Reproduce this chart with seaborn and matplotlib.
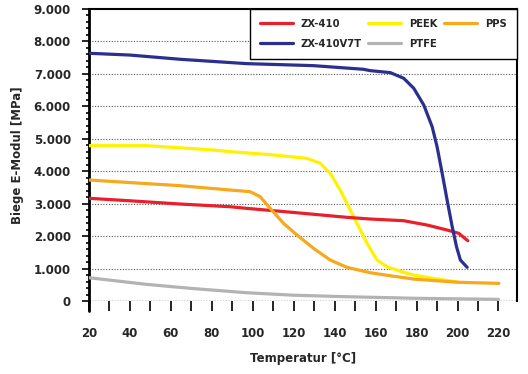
import matplotlib
matplotlib.use("Agg")
import matplotlib.pyplot as plt
import matplotlib.ticker as mticker
import seaborn as sns
import pandas as pd

# ---- data ----
zx410_T = [20, 40, 64.5, 88.9, 97, 120, 146, 157.4, 167.2, 173.7, 185.1, 194.9, 200.6, 205]
zx410_V = [3166, 3090, 2990, 2907, 2857, 2730, 2580, 2528, 2497, 2476, 2343, 2189, 2087, 1860]

v7t_T = [20, 40, 64.5, 97, 129.6, 154, 157.4, 167.2, 173.7, 178.6, 183.5, 187.6, 190, 192.5, 194.9, 197.4, 199.5, 201.4, 204.7]
v7t_V = [7635, 7580, 7450, 7316, 7254, 7142, 7100, 7038, 6865, 6557, 6042, 5373, 4757, 3936, 3113, 2290, 1674, 1264, 1039]

peek_T = [20, 48.2, 80.8, 88.9, 108.5, 126.4, 133, 137.8, 142.7, 147.6, 151.7, 155.8, 160.7, 165.6, 172, 178.6, 190, 199.8]
peek_V = [4788, 4788, 4655, 4603, 4511, 4398, 4244, 3936, 3422, 2805, 2290, 1779, 1264, 1057, 920, 801, 680, 590]

ptfe_T = [20, 48.2, 70, 97, 120, 146, 180, 220]
ptfe_V = [719, 514, 390, 257, 180, 134, 85, 52]

pps_T = [20, 64.5, 88.9, 98.7, 103.6, 108.5, 115, 121.6, 129.7, 137.8, 146, 157.4, 167.2, 178.6, 199.8, 220.2]
pps_V = [3730, 3555, 3422, 3370, 3215, 2857, 2395, 2034, 1624, 1264, 1039, 873, 780, 678, 580, 545]

series = [
    ("ZX-410", zx410_T, zx410_V, "#e8202a"),
    ("ZX-410V7T", v7t_T, v7t_V, "#2b2f8e"),
    ("PEEK", peek_T, peek_V, "#fff200"),
    ("PTFE", ptfe_T, ptfe_V, "#b3b3b3"),
    ("PPS", pps_T, pps_V, "#f7a81b"),
]
draw_order = ["PTFE", "PEEK", "ZX-410", "PPS", "ZX-410V7T"]

x_ticks = [20, 40, 60, 80, 100, 120, 140, 160, 180, 200, 220]
y_ticks = [0, 1000, 2000, 3000, 4000, 5000, 6000, 7000, 8000, 9000]

sns.set_style("white")
plt.rcParams["font.family"] = ["DejaVu Sans"]
plt.rcParams["font.weight"] = "bold"

fig = plt.figure(figsize=(5.28, 3.74), dpi=100)
ax = fig.add_axes([0.1686, 0.195, 0.979 - 0.1686, 0.976 - 0.195])

lookup = {s[0]: s for s in series}
for name in draw_order:
    _, T, V, c = lookup[name]
    df = pd.DataFrame({"T": T, "V": V})
    sns.lineplot(data=df, x="T", y="V", ax=ax, color=c, lw=2.3, label=name,
                 solid_capstyle="round", solid_joinstyle="round", zorder=3)
h, l = ax.get_legend_handles_labels()
hmap = dict(zip(l, h))
order = [s[0] for s in series]
leg = ax.legend([hmap[n] for n in order], order, ncol=3, loc="upper right",
                bbox_to_anchor=(1.0, 1.0), frameon=True, fancybox=False,
                edgecolor="black", framealpha=1, handlelength=3.3,
                handletextpad=0.8, columnspacing=0.65, borderpad=1.0,
                labelspacing=1.0, borderaxespad=0.0,
                prop={"weight": "bold", "size": 7.2, "family": "DejaVu Sans"})
leg.get_frame().set_linewidth(1.0)

ax.set_xlim(20, 229)
ax.set_ylim(0, 9000)
ax.set_xticks(x_ticks)
ax.set_yticks(y_ticks)
ax.xaxis.set_minor_locator(mticker.MultipleLocator(10))
ax.yaxis.set_minor_locator(mticker.MultipleLocator(200))
ax.yaxis.set_major_formatter(mticker.FuncFormatter(
    lambda v, p: "0" if v == 0 else f"{int(v):,}".replace(",", ".")))

for y in y_ticks[1:-1]:
    ax.axhline(y, color="#555555", lw=0.8, ls=(0, (1, 1.5)), zorder=1)
ax.axhline(0, color="#333333", lw=1.0, ls=(0, (1, 1)), zorder=1)

for s in ["top", "right", "left"]:
    ax.spines[s].set_color("black")
    ax.spines[s].set_linewidth(1.5)
ax.spines["bottom"].set_visible(False)
ax.spines["left"].set_linewidth(2.0)
ax.plot([0, 0], [0, -0.035], transform=ax.transAxes, color="black", lw=2.0, clip_on=False)

ax.tick_params(axis="both", which="both", direction="out", color="black",
               labelsize=8.5, width=1.2)
ax.tick_params(axis="x", which="major", length=7, pad=12)
ax.tick_params(axis="x", which="minor", length=7)
ax.tick_params(axis="y", which="major", length=5, pad=8)
ax.tick_params(axis="y", which="minor", length=2.5)
ax.tick_params(bottom=True, left=True, which="both")
for t in ax.get_xticklabels() + ax.get_yticklabels():
    t.set_fontweight("bold")

ax.set_xlabel("Temperatur [°C]", fontsize=8.5, fontweight="bold", labelpad=8)
ax.set_ylabel("Biege E-Modul [MPa]", fontsize=8.5, fontweight="bold", labelpad=7)

fig.savefig("out.png", dpi=100)
